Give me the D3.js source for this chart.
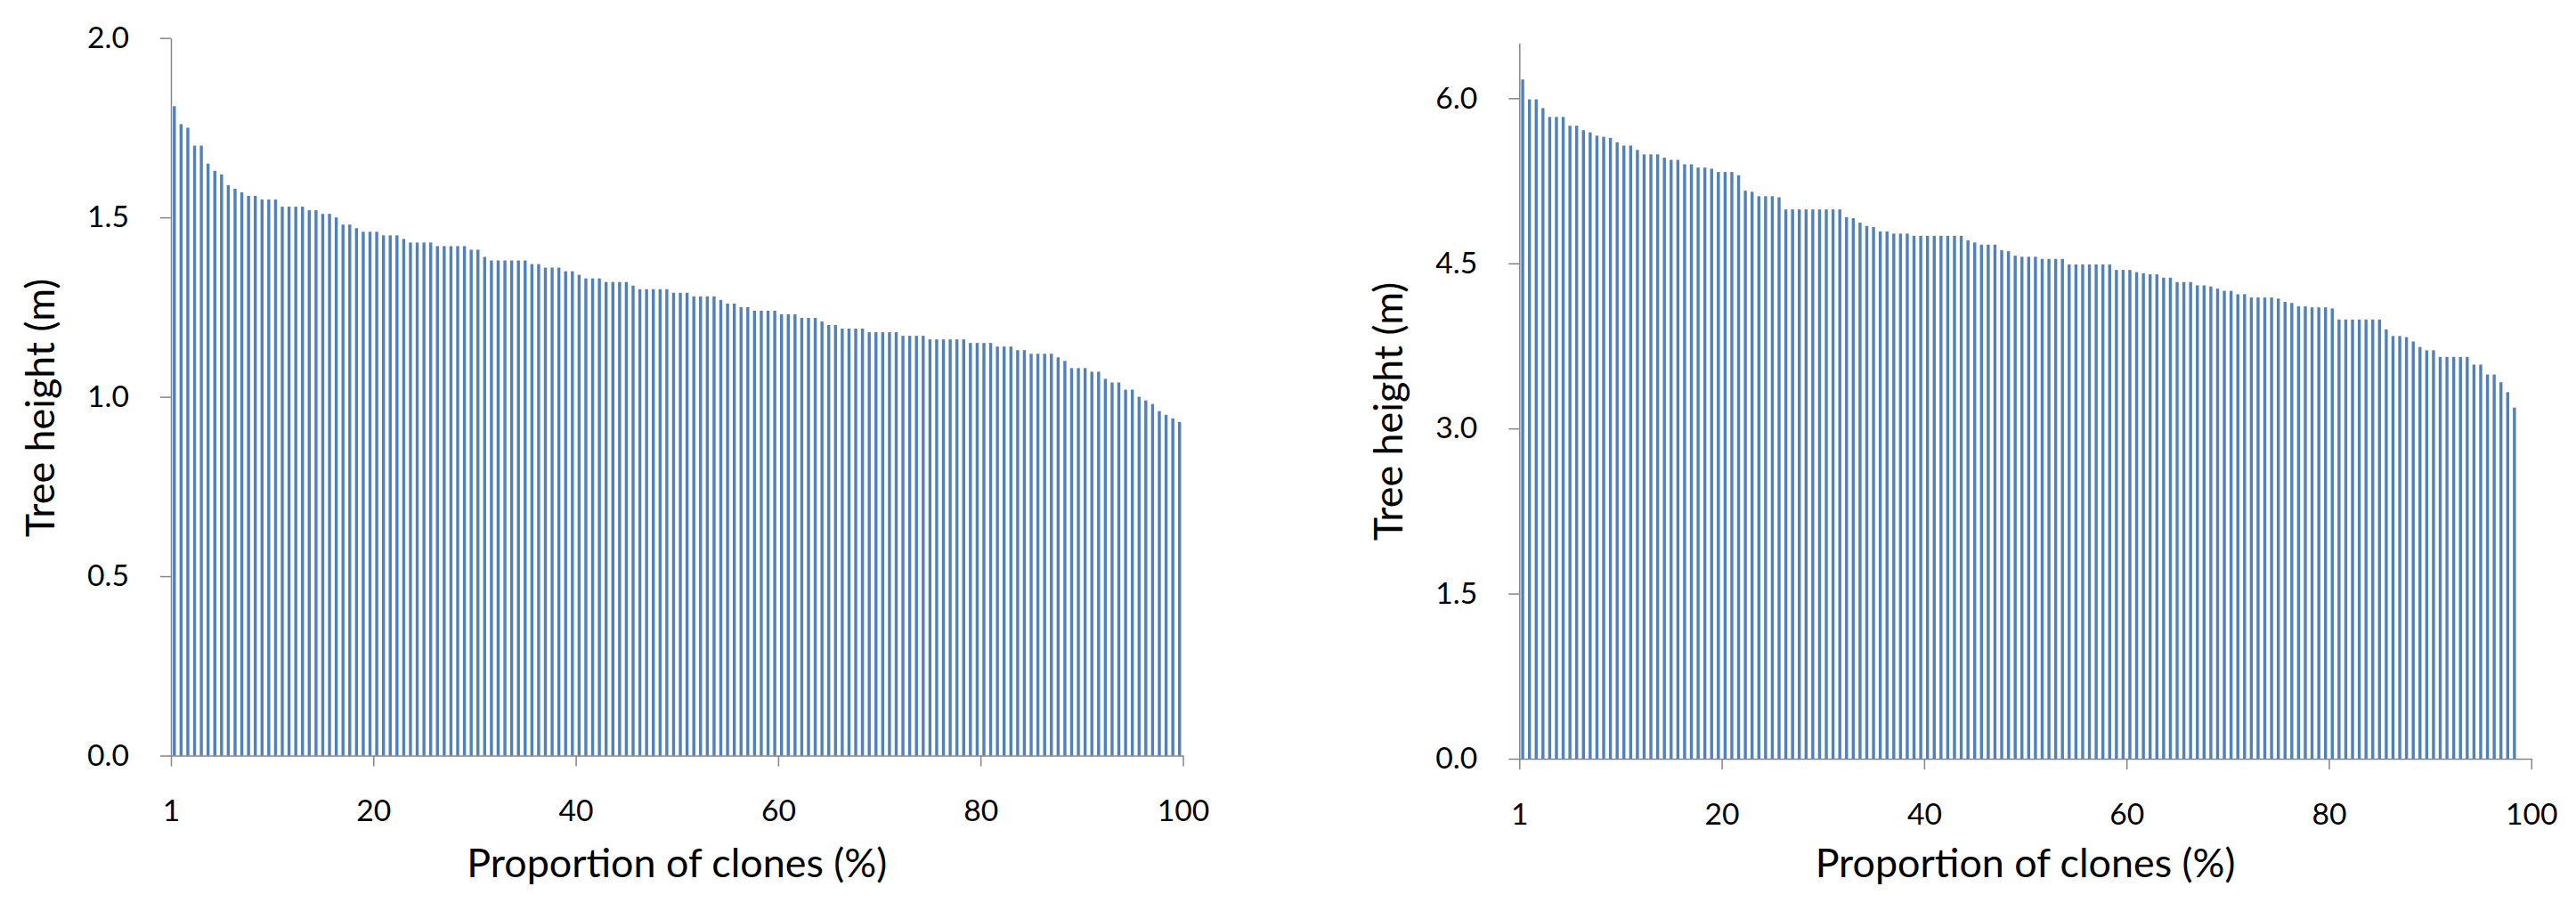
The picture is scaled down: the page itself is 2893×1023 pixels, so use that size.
<!DOCTYPE html>
<html>
<head>
<meta charset="utf-8">
<script src="https://cdn.jsdelivr.net/npm/d3@7"></script>
<style>
  html, body { margin: 0; padding: 0; background: #ffffff; }
  svg { display: block; }
</style>
</head>
<body>
<svg id="chart" width="2893" height="1023"></svg>
<script>
// ---------------- DATA ----------------
// Left panel: tree height (m), clones sorted by height (150 clones)
const heightsLeft = [
  1.81, 1.76, 1.75, 1.70, 1.70, 1.65, 1.63, 1.62, 1.59, 1.58,
  1.57, 1.56, 1.56, 1.55, 1.55, 1.55, 1.53, 1.53, 1.53, 1.53,
  1.52, 1.52, 1.51, 1.51, 1.50, 1.48, 1.48, 1.47, 1.46, 1.46,
  1.46, 1.45, 1.45, 1.45, 1.44, 1.43, 1.43, 1.43, 1.43, 1.42,
  1.42, 1.42, 1.42, 1.42, 1.41, 1.41, 1.39, 1.38, 1.38, 1.38,
  1.38, 1.38, 1.38, 1.37, 1.37, 1.36, 1.36, 1.36, 1.35, 1.35,
  1.34, 1.33, 1.33, 1.33, 1.32, 1.32, 1.32, 1.32, 1.31, 1.30,
  1.30, 1.30, 1.30, 1.30, 1.29, 1.29, 1.29, 1.28, 1.28, 1.28,
  1.28, 1.27, 1.26, 1.26, 1.25, 1.25, 1.24, 1.24, 1.24, 1.24,
  1.23, 1.23, 1.23, 1.22, 1.22, 1.22, 1.21, 1.20, 1.20, 1.19,
  1.19, 1.19, 1.19, 1.18, 1.18, 1.18, 1.18, 1.18, 1.17, 1.17,
  1.17, 1.17, 1.16, 1.16, 1.16, 1.16, 1.16, 1.16, 1.15, 1.15,
  1.15, 1.15, 1.14, 1.14, 1.14, 1.13, 1.13, 1.12, 1.12, 1.12,
  1.12, 1.11, 1.10, 1.08, 1.08, 1.08, 1.07, 1.07, 1.05, 1.04,
  1.04, 1.02, 1.02, 1.00, 0.99, 0.98, 0.96, 0.95, 0.94, 0.93
];

// Right panel: tree height (m), clones sorted by height (148 clones)
const heightsRight = [
  6.17, 5.99, 5.99, 5.91, 5.83, 5.83, 5.83, 5.75, 5.75, 5.71,
  5.69, 5.66, 5.65, 5.64, 5.60, 5.57, 5.57, 5.53, 5.49, 5.49,
  5.49, 5.46, 5.44, 5.44, 5.40, 5.40, 5.37, 5.37, 5.36, 5.33,
  5.33, 5.33, 5.30, 5.16, 5.15, 5.11, 5.11, 5.11, 5.10, 4.99,
  4.99, 4.99, 4.99, 4.99, 4.99, 4.99, 4.99, 4.99, 4.92, 4.91,
  4.87, 4.84, 4.83, 4.79, 4.79, 4.77, 4.77, 4.77, 4.75, 4.75,
  4.75, 4.75, 4.75, 4.75, 4.75, 4.75, 4.71, 4.69, 4.67, 4.67,
  4.67, 4.62, 4.61, 4.57, 4.56, 4.56, 4.56, 4.54, 4.54, 4.54,
  4.54, 4.49, 4.49, 4.49, 4.49, 4.49, 4.49, 4.49, 4.44, 4.44,
  4.44, 4.42, 4.41, 4.40, 4.40, 4.37, 4.37, 4.33, 4.33, 4.33,
  4.30, 4.30, 4.29, 4.27, 4.25, 4.25, 4.22, 4.22, 4.19, 4.19,
  4.19, 4.19, 4.18, 4.15, 4.14, 4.11, 4.11, 4.10, 4.10, 4.10,
  4.09, 3.99, 3.99, 3.99, 3.99, 3.99, 3.99, 3.99, 3.90, 3.84,
  3.84, 3.83, 3.79, 3.74, 3.71, 3.71, 3.65, 3.65, 3.65, 3.65,
  3.65, 3.58, 3.58, 3.49, 3.49, 3.42, 3.33, 3.19
];

const categorySlots = 150;                 // category positions along each x axis
const xTickValues = [0, 20, 40, 60, 80, 100];
const xTickLabels = ["1", "20", "40", "60", "80", "100"];
const yTicksLeft  = [0, 0.5, 1.0, 1.5, 2.0];
const yTicksRight = [0, 1.5, 3.0, 4.5, 6.0];
const yMaxLeft = 2.0;
const yMaxRight = 6.5;
const yTitle = "Tree height (m)";
const xTitle = "Proportion of clones (%)";

// ---------------- STYLE / LAYOUT ----------------
const FONT = "Lato, 'Open Sans', 'Noto Sans', sans-serif";
const BAR_COLOR = "#4F81BD";
const AXIS_COLOR = "#868686";

const svg = d3.select("#chart");
svg.append("rect").attr("width", 2893).attr("height", 1023).attr("fill", "#ffffff");

// fit font sizes to the widths measured on the reference
function fitSize(str, targetWidth, base) {
  const t = svg.append("text").attr("font-family", FONT).attr("font-size", base).text(str);
  const w = t.node().getComputedTextLength();
  t.remove();
  return base * targetWidth / w;
}
const tickFont = fitSize("2.0", 47, 33);
const titleFont = fitSize(xTitle, 472, 40);

const panels = [
  { values: heightsLeft,  yMax: yMaxLeft,  yTicks: yTicksLeft,
    left: 192, right: 1328.5, top: 42.7, bottom: 848.5, yTitleX: 60.5, yTitleY: 458 },
  { values: heightsRight, yMax: yMaxRight, yTicks: yTicksRight,
    left: 1706.3, right: 2842.8, top: 48.5, bottom: 852, yTitleX: 1575, yTitleY: 462 }
];

panels.forEach(p => {
  const g = svg.append("g");

  const xBand = d3.scaleBand()
    .domain(d3.range(categorySlots))
    .range([p.left, p.right])
    .paddingInner(0.55)
    .paddingOuter(0.275);

  const xLin = d3.scaleLinear().domain([0, 100]).range([p.left, p.right]);
  const y = d3.scaleLinear().domain([0, p.yMax]).range([p.bottom, p.top]);

  // bars
  g.append("g").selectAll("rect")
    .data(p.values)
    .join("rect")
    .attr("x", (d, i) => xBand(i))
    .attr("width", xBand.bandwidth())
    .attr("y", d => y(d))
    .attr("height", d => y(0) - y(d))
    .attr("fill", BAR_COLOR);

  // y axis
  const yAxis = g.append("g")
    .attr("transform", `translate(${p.left},0)`)
    .call(d3.axisLeft(y)
      .tickValues(p.yTicks)
      .tickFormat(d3.format(".1f"))
      .tickSize(12)
      .tickSizeOuter(0)
      .tickPadding(35));
  yAxis.attr("color", AXIS_COLOR).attr("font-family", FONT).attr("font-size", tickFont);
  yAxis.selectAll("path, line").attr("stroke-width", 1.5);
  yAxis.selectAll("text").attr("fill", "#000");

  // x axis
  const xAxis = g.append("g")
    .attr("transform", `translate(0,${p.bottom})`)
    .call(d3.axisBottom(xLin)
      .tickValues(xTickValues)
      .tickFormat((d, i) => xTickLabels[i])
      .tickSize(12)
      .tickSizeOuter(0)
      .tickPadding(38));
  xAxis.attr("color", AXIS_COLOR).attr("font-family", FONT).attr("font-size", tickFont);
  xAxis.selectAll("path, line").attr("stroke-width", 1.5);
  xAxis.selectAll("text").attr("fill", "#000");

  // axis titles
  g.append("text")
    .attr("x", (p.left + p.right) / 2)
    .attr("y", 985)
    .attr("text-anchor", "middle")
    .attr("font-family", FONT)
    .attr("font-size", titleFont)
    .attr("fill", "#000")
    .text(xTitle);

  g.append("text")
    .attr("transform", `translate(${p.yTitleX},${p.yTitleY}) rotate(-90)`)
    .attr("text-anchor", "middle")
    .attr("font-family", FONT)
    .attr("font-size", titleFont)
    .attr("fill", "#000")
    .text(yTitle);
});
</script>
</body>
</html>
